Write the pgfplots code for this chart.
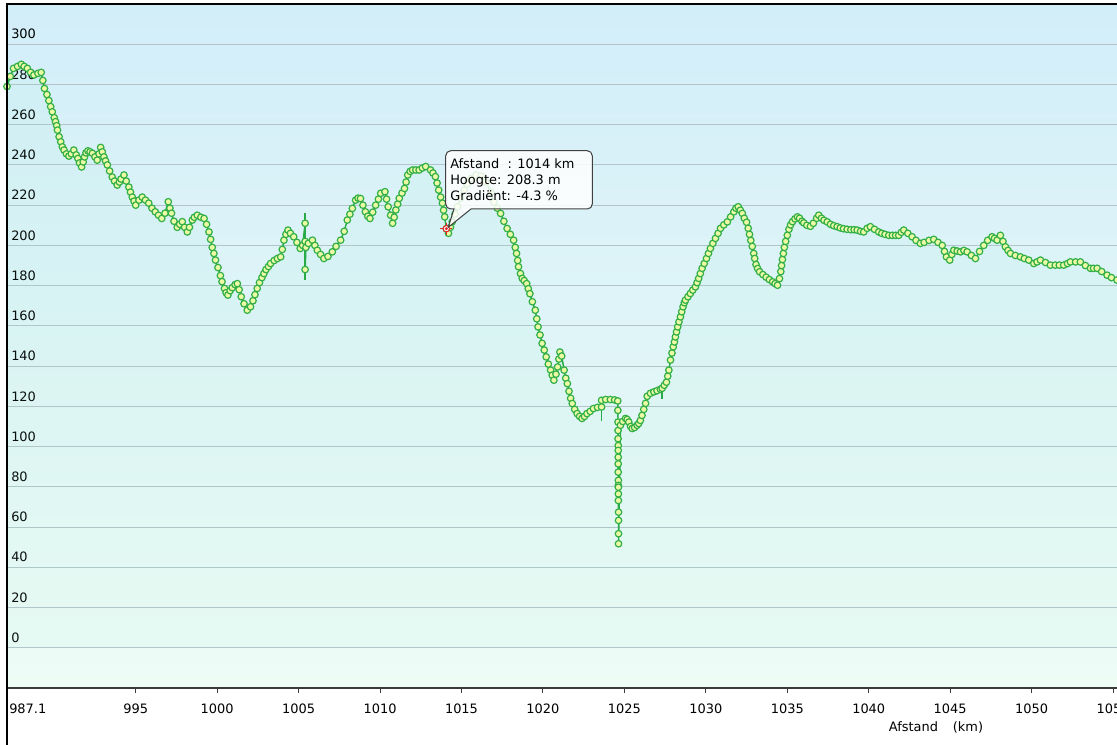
\documentclass[border=0pt]{standalone}
\usepackage{pgfplots}
\pgfplotsset{compat=1.18}
\usepackage{pgfplotstable}
\usepackage{fontspec}
\setmainfont{DejaVu Sans}
\definecolor{bgtop}{RGB}{210,238,249}
\definecolor{bgbot}{RGB}{238,252,246}
\definecolor{gridc}{RGB}{178,196,200}
\definecolor{lineg}{RGB}{40,170,70}
\definecolor{markg}{RGB}{50,175,70}
\definecolor{markf}{RGB}{236,249,165}
\definecolor{tint}{RGB}{150,240,200}
\definecolor{cross}{RGB}{225,40,40}
\definecolor{axisc}{RGB}{60,60,60}

\pgfplotstableread{
km elev
987.1 279
987.3 284
987.5 288
987.75 289
987.98 290
988.15 289
988.35 288
988.55 286
988.75 284.7
989.0 285.5
989.2 286
989.3 282
989.4 278
989.55 275
989.67 272
989.78 269
989.88 266.4
990.0 263.5
990.08 261.5
990.15 259.5
990.2 257.3
990.3 254
990.4 251.5
990.5 249
990.6 247.4
990.75 245.5
990.9 244.4
991.05 245.5
991.2 247.4
991.35 245
991.45 243.2
991.55 241
991.68 239
991.78 241.5
991.86 244
991.95 246
992.07 247
992.2 246.5
992.34 245.8
992.5 244
992.64 242.4
992.75 245.5
992.85 248.7
992.95 246.5
993.05 244
993.15 242
993.26 240
993.4 237
993.56 234
993.7 232
993.87 230
994.0 231.5
994.1 233
994.28 235
994.42 232
994.58 229
994.68 226.5
994.79 224
994.9 222
995.0 220
995.2 222.5
995.4 224
995.6 222.5
995.8 221
996.0 218.5
996.2 216.7
996.4 215
996.6 213.4
996.8 216
997.0 221.7
997.1 218.5
997.2 216
997.35 212
997.55 209
997.7 210.5
997.86 211.8
998.0 209
998.17 206.7
998.3 209
998.48 212.6
998.6 214
998.78 215
999.0 214
999.2 213.4
999.35 210.5
999.5 206.7
999.6 203
999.7 199
999.8 196
999.9 192.7
1000.05 189
1000.2 185
1000.3 182
1000.45 178.6
1000.55 176.5
1000.66 175.3
1000.8 177.5
1000.93 179
1001.1 180.5
1001.24 181
1001.35 178
1001.48 174.5
1001.65 171
1001.85 167.8
1002.05 169.5
1002.2 172.5
1002.32 175.5
1002.46 178.6
1002.6 181.5
1002.75 184
1002.87 186
1003.0 188
1003.15 189.5
1003.28 191
1003.5 192.5
1003.7 193.5
1003.9 194.3
1004.0 198
1004.1 202.6
1004.22 205.5
1004.35 207.6
1004.5 206
1004.7 204.3
1004.9 201.5
1005.1 198.5
1005.25 200
1005.4 211
1005.4 202
1005.4 188
1005.45 199
1005.6 201
1005.85 202.6
1006.0 200
1006.15 197.6
1006.35 195.5
1006.55 193.5
1006.8 194.5
1007.07 196.8
1007.3 199.5
1007.58 202.6
1007.8 207
1007.99 212.6
1008.15 215.5
1008.3 218.4
1008.5 222.5
1008.65 223.5
1008.8 223.3
1008.95 220
1009.1 216.7
1009.25 214.5
1009.38 213.4
1009.55 216.5
1009.73 220
1009.9 223
1010.04 225.9
1010.3 226.7
1010.4 223
1010.5 219.2
1010.65 215
1010.77 211
1010.87 214
1010.97 217.6
1011.08 220.5
1011.18 223.4
1011.35 226
1011.5 228.3
1011.6 231.5
1011.7 235
1011.85 236.8
1012.0 237.5
1012.2 237.5
1012.4 237.5
1012.6 238.5
1012.8 239.2
1013.1 237.5
1013.25 236
1013.4 234.2
1013.5 231
1013.6 227.5
1013.72 224
1013.83 221
1013.9 217.5
1013.97 214.2
1014.07 208.3
1014.2 206
1014.32 209
1014.43 211.7
1014.6 215.5
1014.75 219.2
1014.95 223.5
1015.16 227.5
1015.35 230.5
1015.57 233.3
1015.9 235
1016.2 234.5
1016.5 231.5
1016.8 226.5
1017.0 221.5
1017.2 218.5
1017.4 215.9
1017.6 212
1017.8 208.4
1018.0 205.5
1018.2 202.6
1018.3 199
1018.38 196
1018.45 192.5
1018.5 189.4
1018.62 186
1018.73 183.6
1018.85 182.5
1019.0 181
1019.1 178.5
1019.2 176
1019.35 172
1019.53 167.8
1019.62 163.5
1019.7 159.5
1019.82 155.5
1019.95 151.3
1020.08 148
1020.2 144.6
1020.33 141
1020.47 138
1020.57 135.5
1020.67 133
1020.8 136
1020.9 139.6
1020.98 143.5
1021.04 147
1021.15 145
1021.3 138
1021.4 134
1021.5 131.3
1021.6 127.5
1021.7 124
1021.8 121.4
1021.95 118.5
1022.1 116.4
1022.25 115
1022.4 114
1022.55 115
1022.7 116.4
1022.9 117.5
1023.1 118.9
1023.35 119.5
1023.6 119.7
1023.6 123
1023.85 123.4
1024.14 123.4
1024.4 123.2
1024.59 122.7
1024.6 118
1024.61 112.2
1024.61 108
1024.61 103.9
1024.62 100.5
1024.62 98.1
1024.62 94.7
1024.62 91.4
1024.62 87.3
1024.63 83.2
1024.63 80.7
1024.63 79.8
1024.63 76.5
1024.63 73.2
1024.64 67.4
1024.64 63.3
1024.64 56.7
1024.64 51.7
1024.76 110.6
1024.9 112.5
1025.07 114
1025.17 113.5
1025.27 112.2
1025.38 110
1025.48 109
1025.63 109.5
1025.78 110.6
1025.88 111.5
1025.98 113
1026.08 115.5
1026.19 118.5
1026.3 121.5
1026.4 125
1026.6 126.5
1026.81 127.2
1027.0 127.8
1027.21 128.5
1027.32 129
1027.45 130.5
1027.58 132
1027.66 135
1027.73 138
1027.83 143
1027.92 146.5
1028.0 149.6
1028.07 152
1028.13 154.5
1028.2 157
1028.27 159.5
1028.35 162
1028.44 164.5
1028.52 167
1028.6 169.5
1028.68 171.5
1028.75 172.8
1028.9 174.5
1029.05 176.1
1029.2 177.8
1029.36 179.4
1029.46 181.5
1029.56 183.6
1029.66 186
1029.77 188.6
1029.9 191
1030.04 193.5
1030.16 196
1030.28 198.5
1030.43 201
1030.59 203.5
1030.75 206
1030.9 208.5
1031.1 210.2
1031.32 211.7
1031.52 214.2
1031.72 216.7
1031.85 218.5
1031.99 219.2
1032.12 217.5
1032.24 215.9
1032.36 213.5
1032.5 211.5
1032.6 208.5
1032.68 205.5
1032.76 202.5
1032.85 199.5
1032.94 196
1033.0 193.5
1033.08 190.5
1033.18 188.5
1033.3 186.9
1033.5 185.5
1033.7 184.2
1033.9 183
1034.1 181.9
1034.25 181
1034.4 180.2
1034.52 183.5
1034.6 187
1034.65 190
1034.7 193
1034.76 196
1034.82 199
1034.9 202
1035.0 205
1035.1 208
1035.2 210.2
1035.32 211.8
1035.47 213.2
1035.62 214.2
1035.75 213.5
1035.9 212
1036.01 211.2
1036.2 210
1036.42 209.5
1036.6 211
1036.8 213.5
1036.93 215
1037.1 213.5
1037.25 212.5
1037.45 211.7
1037.65 210.5
1037.85 209.8
1038.06 209.3
1038.25 208.7
1038.45 208.3
1038.67 208
1038.9 207.8
1039.1 207.8
1039.29 207.6
1039.5 207
1039.69 206.7
1039.9 208.5
1040.1 209.3
1040.35 208
1040.61 206.7
1040.8 206
1041.0 205.5
1041.23 205
1041.45 205
1041.65 205
1041.84 205
1042.0 206.5
1042.15 207.6
1042.4 206
1042.66 204.3
1042.9 202.5
1043.17 201
1043.4 201.5
1043.7 202.5
1043.99 203
1044.25 201.5
1044.51 200
1044.65 197
1044.77 194.3
1044.97 192.7
1045.1 195.5
1045.22 197.6
1045.43 197.2
1045.63 196.8
1045.84 197.5
1046.04 196.8
1046.3 195
1046.55 193.5
1046.8 197
1047.06 200
1047.3 202.5
1047.57 204.3
1047.72 203.5
1047.88 202.6
1048.08 205
1048.24 202
1048.39 199.3
1048.55 197.5
1048.7 196
1049.0 195
1049.31 194.3
1049.55 193.5
1049.82 192.7
1050.13 191
1050.33 191.8
1050.54 192.7
1050.85 191.5
1051.15 190.2
1051.45 190.2
1051.7 190.2
1051.97 190.2
1052.2 191
1052.38 191.8
1052.7 191.8
1052.99 191.8
1053.3 190
1053.61 188.6
1053.8 188.6
1054.02 188.6
1054.3 187
1054.63 185.2
1054.9 184
1055.24 182.8
}\profile

\begin{document}
\begin{tikzpicture}[font=\fontsize{9.7bp}{11.6bp}\selectfont]
\begin{axis}[
  scale only axis, width=832.5bp, height=513bp,
  at={(5.25bp,42.75bp)}, anchor=south west,
  xmin=987.1, xmax=1055.24, ymin=-20, ymax=320,
  separate axis lines,
  axis x line*=bottom, axis y line*=left,
  x axis line style={-, draw=axisc, line width=0.9bp},
  y axis line style={draw=none},
  axis background/.style={shade, top color=bgtop, bottom color=bgbot},
  ymajorgrids, grid style={draw=gridc, line width=0.75bp},
  ytick={0,20,...,300},
  xtick={995,1000,1005,1010,1015,1020,1025,1030,1035,1040,1045,1050,1055},
  xticklabels={995,1000,1005,1010,1015,1020,1025,1030,1035,1040,1045,1050,1055},
  extra x ticks={987.1}, extra x tick labels={987.1},
  extra x tick style={grid=none, xticklabel style={anchor=north west, xshift=1.5bp}},
  tick align=outside, major tick length=3.75bp,
  xtick style={draw=axisc, line width=0.75bp},
  ytick style={draw=none},
  /pgf/number format/assume math mode=true,
  /pgf/number format/1000 sep={},
  xticklabel style={anchor=north, inner sep=0pt, yshift=-7.9bp},
  yticklabel style={anchor=base west, inner sep=0pt, xshift=6.75bp, yshift=4bp},
  clip=true,
]
\addplot[draw=none, fill=tint, fill opacity=0.07, forget plot] table[x=km,y=elev] {\profile} \closedcycle;
\addplot[lineg, line width=1.1bp, forget plot] coordinates {(1005.4,216) (1005.4,183)};
\addplot[lineg, line width=1.1bp, forget plot] coordinates {(1023.6,119.7) (1023.6,112.6)};
\addplot[lineg, line width=1.1bp, forget plot] coordinates {(1027.32,128.9) (1027.32,123.8)};
\addplot[lineg, line width=1.1bp, mark=*, mark size=2.45bp,
  mark options={draw=markg, fill=markf, line width=0.9bp}] table[x=km,y=elev] {\profile};
\addplot[only marks, mark=+, mark size=4.5bp, mark options={draw=cross, line width=0.8bp}] coordinates {(1014.07,208.3)};
\addplot[only marks, mark=*, mark size=2.4bp, mark options={draw=cross, fill=white, line width=0.8bp}] coordinates {(1014.07,208.3)};
\addplot[only marks, mark=*, mark size=0.9bp, mark options={draw=cross, fill=cross}] coordinates {(1014.07,208.3)};
\end{axis}
% frame lines
\draw[black, line width=0.9bp] (5.25bp,0bp) -- (5.25bp,555.75bp) -- (837.75bp,555.75bp);
% tooltip
\draw[draw=black!75, fill=white, fill opacity=0.85, line width=0.75bp]
  (340.5bp,402bp) [rounded corners=3.75bp] -- (334.3bp,402bp) -- (334.3bp,445.7bp)
  -- (444.2bp,445.7bp) -- (444.2bp,402bp) [sharp corners] -- (353.25bp,402bp)
  -- (336.2bp,388.3bp) -- cycle;
\node[anchor=base west, inner sep=0pt] at (337.5bp,432.2bp) {Afstand\ \ : 1014 km};
\node[anchor=base west, inner sep=0pt] at (337.5bp,420.2bp) {Hoogte: 208.3 m};
\node[anchor=base west, inner sep=0pt] at (337.5bp,408.6bp) {Gradiënt: -4.3 \%};
% x label
\node[anchor=base west, inner sep=0pt] at (666.5bp,10.1bp) {Afstand\hspace{1.15em}(km)};
\pgfresetboundingbox
\path (0,0) rectangle (837.75bp,558.75bp);
\end{tikzpicture}
\end{document}
